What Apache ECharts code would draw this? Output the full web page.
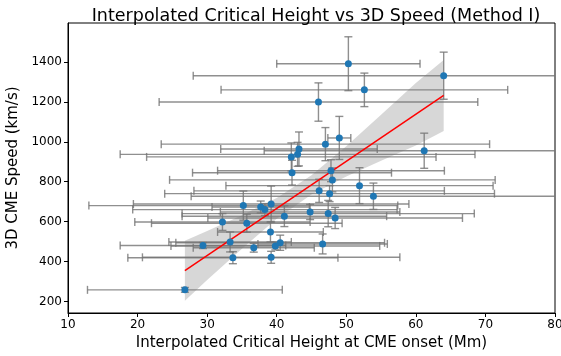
<!DOCTYPE html>
<html>
<head>
<meta charset="utf-8">
<script src="https://cdn.jsdelivr.net/npm/echarts@6/dist/echarts.min.js"></script>
<style>
  html, body { margin: 0; padding: 0; background: #fff; }
  #chart { width: 561px; height: 356px; }
</style>
</head>
<body>
<div id="chart"></div>
<script>
// Interpolated critical height (Mm) and 3D CME speed (km/s), with 1-sigma errors
const heightMm = [50.3, 64.0, 52.6, 46.0, 49.0, 47.0, 43.2, 61.2, 43.0, 42.1,
                  47.8, 42.2, 48.0, 51.9, 46.1, 47.6, 53.9, 39.2, 35.2, 37.7,
                  38.3, 44.8, 47.4, 41.1, 48.4, 32.2, 35.7, 39.1, 33.3, 40.5,
                  46.6, 29.4, 39.8, 36.7, 39.2, 33.7, 26.8];
const speedKms = [1391, 1331, 1260, 1199, 1019, 988, 964, 955, 937, 924,
                  855, 845, 809, 780, 754, 740, 727, 688, 680, 673,
                  660, 648, 640, 627, 618, 598, 592, 548, 498, 494,
                  488, 480, 478, 469, 421, 419, 258];
const heightErr = [10.3, 36.0, 20.6, 22.9, 1.65, 23.6, 11.25, 23.0, 25.5, 20.8,
                   16.3, 14.3, 23.4, 19.2, 18.0, 23.7, 26.2, 19.8, 22.2, 7.0,
                   19.0, 12.9, 21.0, 14.7, 18.3, 12.6, 13.7, 7.6, 8.8, 15.0,
                   9.3, 11.9, 15.0, 8.7, 18.5, 15.1, 14.0];
const speedErr = [135, 118, 84, 96, 108, 83, 85, 88, 60, 70,
                  55, 62, 60, 90, 58, 40, 66, 90, 73, 30,
                  30, 38, 66, 52, 53, 42, 45, 50, 50, 38,
                  50, 15, 20, 22, 30, 30, 12];

// Linear fit end points and its confidence band
const fitX = [26.8, 64.0];
const fitY = [354, 1232];
const bandX = [26.8, 30, 35, 40, 45, 50, 55, 60, 64.0];
const bandLow = [204, 307, 464, 614, 736, 826, 905, 981, 1054];
const bandHigh = [504, 553, 632, 718, 832, 978, 1135, 1295, 1410];

// Axis ticks
const xTicks = [10, 20, 30, 40, 50, 60, 70, 80];
const yTicks = [200, 400, 600, 800, 1000, 1200, 1400];

const FONT = 'DejaVu Sans';
const chart = echarts.init(document.getElementById('chart'), null, { renderer: 'canvas' });

const points = heightMm.map((h, i) => [h, speedKms[i]]);
const errData = heightMm.map((h, i) => [h, speedKms[i], heightErr[i], speedErr[i]]);

const barStyle = { stroke: 'rgba(115,115,115,0.8)', lineWidth: 1.4, fill: null };

function errorBarItem(params, api) {
  const x = api.value(0), y = api.value(1), xe = api.value(2), ye = api.value(3);
  const l = api.coord([x - xe, y]), r = api.coord([x + xe, y]);
  const t = api.coord([x, y + ye]), b = api.coord([x, y - ye]);
  const c = 4;
  const seg = (x1, y1, x2, y2) => ({ type: 'line', shape: { x1, y1, x2, y2 }, style: barStyle });
  return {
    type: 'group',
    children: [
      seg(l[0], l[1], r[0], r[1]),
      seg(l[0], l[1] - c, l[0], l[1] + c),
      seg(r[0], r[1] - c, r[0], r[1] + c),
      seg(t[0], t[1], b[0], b[1]),
      seg(t[0] - c, t[1], t[0] + c, t[1]),
      seg(b[0] - c, b[1], b[0] + c, b[1])
    ]
  };
}

function bandItem(params, api) {
  const pts = [];
  for (let i = 0; i < bandX.length; i++) pts.push(api.coord([bandX[i], bandHigh[i]]));
  for (let i = bandX.length - 1; i >= 0; i--) pts.push(api.coord([bandX[i], bandLow[i]]));
  return { type: 'polygon', shape: { points: pts }, style: { fill: 'rgba(160,160,160,0.42)', stroke: null } };
}

const option = {
  animation: false,
  backgroundColor: '#fff',
  title: {
    text: 'Interpolated Critical Height vs 3D Speed (Method I)',
    left: 311, textAlign: 'center', top: 2,
    textStyle: { fontFamily: FONT, fontSize: 17.5, fontWeight: 'normal', color: '#000' }
  },
  grid: {
    left: 68, right: 6, top: 23, bottom: 43,
    containLabel: false, outerBoundsMode: 'none',
    show: true, borderColor: '#000', borderWidth: 1, backgroundColor: 'transparent'
  },
  xAxis: {
    type: 'value', min: 10, max: 80, interval: 10,
    name: 'Interpolated Critical Height at CME onset (Mm)',
    nameLocation: 'middle', nameGap: 23,
    nameTextStyle: { fontFamily: FONT, fontSize: 15, color: '#000' },
    axisLine: { show: true, onZero: false, lineStyle: { color: '#000', width: 1 } },
    axisTick: { show: true, length: 4, lineStyle: { color: '#000', width: 1 } },
    axisLabel: { fontFamily: FONT, fontSize: 12, color: '#000', margin: 6, customValues: xTicks },
    splitLine: { show: false }
  },
  yAxis: {
    type: 'value', min: 142, max: 1595,
    name: '3D CME Speed (km/s)',
    nameLocation: 'middle', nameGap: 42,
    nameTextStyle: { fontFamily: FONT, fontSize: 15, color: '#000' },
    axisLine: { show: true, onZero: false, lineStyle: { color: '#000', width: 1 } },
    axisTick: { show: true, length: 4, lineStyle: { color: '#000', width: 1 }, customValues: yTicks },
    axisLabel: { fontFamily: FONT, fontSize: 12, color: '#000', margin: 6, customValues: yTicks,
                 formatter: v => String(v) },
    splitLine: { show: false }
  },
  series: [
    {
      type: 'custom', name: 'band', renderItem: bandItem, clip: true, silent: true, z: 1,
      data: [[bandX[0], bandLow[0]]]
    },
    {
      type: 'custom', name: 'errors', renderItem: errorBarItem, clip: true, silent: true, z: 2,
      data: errData, encode: { x: 0, y: 1 }
    },
    {
      type: 'line', name: 'fit', data: fitX.map((x, i) => [x, fitY[i]]), showSymbol: false,
      lineStyle: { color: '#ff0000', width: 1.5 }, silent: true, z: 3
    },
    {
      type: 'scatter', name: 'events', data: points, symbolSize: 7,
      itemStyle: { color: '#1f77b4', opacity: 1 }, z: 4
    }
  ]
};
chart.setOption(option);
</script>
</body>
</html>
